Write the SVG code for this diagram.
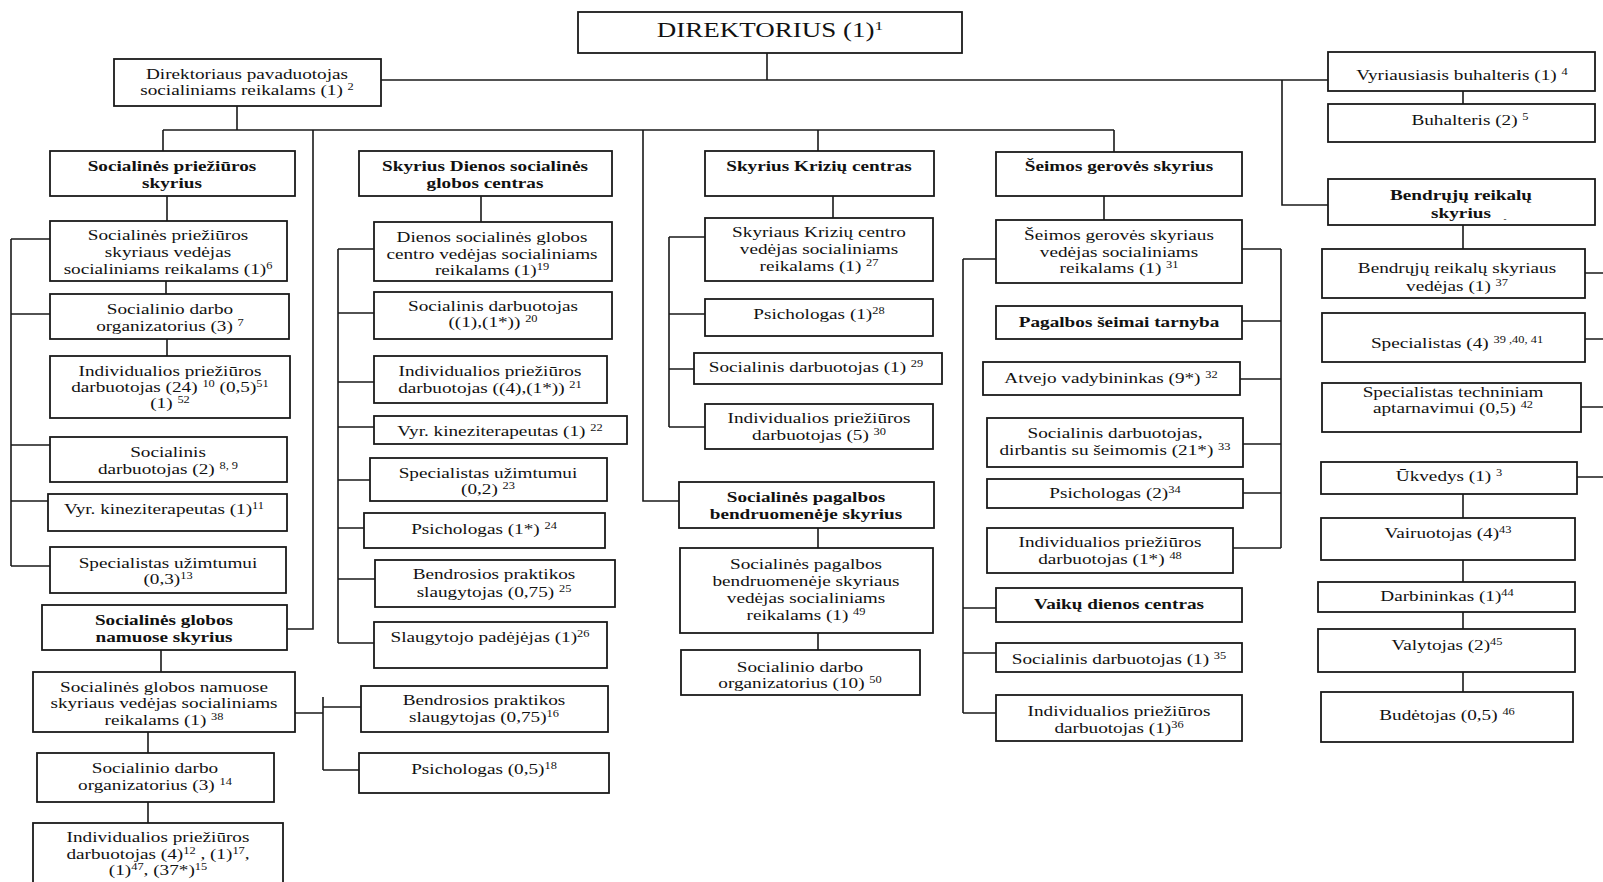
<svg xmlns="http://www.w3.org/2000/svg" width="1603" height="882" viewBox="0 0 1603 882">
<style>
rect{fill:#fff;stroke:#1a1a1a;stroke-width:1.8}
#conn path{fill:none;stroke:#1a1a1a;stroke-width:1.6}
text{font-family:"Liberation Serif","Times New Roman",serif;font-size:15.5px;text-anchor:middle;fill:#111}
.b{font-weight:bold}
.s{font-size:10px}
.big{font-size:20px}
.bigs{font-size:13px}
</style>
<rect x="0" y="0" width="1603" height="882" style="stroke:none"/>
<g id="conn">
<path d="M767 53V80M381 80H1328M237 106V130M163 130H1114M163 130V151M818 130V151M1114 130V152"/>
<path d="M313 130V629H287M643 130V501H679"/>
<path d="M1463 91V104M1282 80V205H1328M1463 225V249M1585 273H1603M1585 339H1603M1581 407H1603M1577 477H1603M1463 494V518M1463 560V582M1463 612V629M1463 672V692"/>
<path d="M167 196V221M166 281V294M167 339V356M11 239V566M11 239H50M11 314H50M11 445H50M11 501H48M11 566H50"/>
<path d="M161 650V672M148 732V753M148 802V823M295 713H323M323 697V770M323 707H361M323 770H359"/>
<path d="M481 196V222M338 249V643M338 249H374M338 313H374M338 382H374M338 427H374M338 480H370M338 528H364M338 579H375M338 643H374"/>
<path d="M833 196V218M669 237V427M669 237H705M669 314H705M669 369H694M669 427H705M818 528V548M818 633V650"/>
<path d="M1104 196V220M963 259V713M963 259H996M963 608H996M963 653H996M963 713H996M1281 249V548M1242 249H1281M1242 321H1281M1240 379H1281M1243 444H1281M1243 493H1281M1233 548H1281"/>
</g>
<g id="direktorius"><rect x="578" y="12" width="384" height="41"/><text class="big" transform="translate(770,0) scale(1.35,1)"><tspan x="0" y="37">DIREKTORIUS (1)<tspan class="bigs" baseline-shift="super">1</tspan></tspan></text></g>
<g id="pavaduotojas"><rect x="114" y="59" width="267" height="47"/><text transform="translate(247,0) scale(1.24,1)"><tspan x="0" y="79">Direktoriaus pavaduotojas</tspan><tspan x="0" y="95">socialiniams reikalams (1) <tspan class="s" baseline-shift="super">2</tspan></tspan></text></g>
<g id="sps"><rect x="50" y="151" width="245" height="45"/><text class="b" transform="translate(172,0) scale(1.24,1)"><tspan x="0" y="171">Socialinės priežiūros</tspan><tspan x="0" y="188">skyrius</tspan></text></g>
<g id="sps_v"><rect x="50" y="221" width="237" height="60"/><text transform="translate(168,0) scale(1.24,1)"><tspan x="0" y="240">Socialinės priežiūros</tspan><tspan x="0" y="257">skyriaus vedėjas</tspan><tspan x="0" y="274">socialiniams reikalams (1)<tspan class="s" baseline-shift="super">6</tspan></tspan></text></g>
<g id="sps_org"><rect x="50" y="294" width="239" height="45"/><text transform="translate(170,0) scale(1.24,1)"><tspan x="0" y="314">Socialinio darbo</tspan><tspan x="0" y="331">organizatorius (3) <tspan class="s" baseline-shift="super">7</tspan></tspan></text></g>
<g id="sps_ind"><rect x="50" y="356" width="240" height="62"/><text transform="translate(170,0) scale(1.24,1)"><tspan x="0" y="376">Individualios priežiūros</tspan><tspan x="0" y="392">darbuotojas (24) <tspan class="s" baseline-shift="super">10</tspan> (0,5)<tspan class="s" baseline-shift="super">51</tspan></tspan><tspan x="0" y="408">(1) <tspan class="s" baseline-shift="super">52</tspan></tspan></text></g>
<g id="sps_sd"><rect x="50" y="437" width="237" height="45"/><text transform="translate(168,0) scale(1.24,1)"><tspan x="0" y="457">Socialinis</tspan><tspan x="0" y="474">darbuotojas (2) <tspan class="s" baseline-shift="super">8, 9</tspan></tspan></text></g>
<g id="sps_kin"><rect x="48" y="494" width="239" height="37"/><text transform="translate(164,0) scale(1.24,1)"><tspan x="0" y="514">Vyr. kineziterapeutas (1)<tspan class="s" baseline-shift="super">11</tspan></tspan></text></g>
<g id="sps_uz"><rect x="50" y="547" width="236" height="46"/><text transform="translate(168,0) scale(1.24,1)"><tspan x="0" y="568">Specialistas užimtumui</tspan><tspan x="0" y="584">(0,3)<tspan class="s" baseline-shift="super">13</tspan></tspan></text></g>
<g id="sgn"><rect x="42" y="605" width="245" height="45"/><text class="b" transform="translate(164,0) scale(1.24,1)"><tspan x="0" y="625">Socialinės globos</tspan><tspan x="0" y="642">namuose skyrius</tspan></text></g>
<g id="sgn_v"><rect x="33" y="672" width="262" height="60"/><text transform="translate(164,0) scale(1.24,1)"><tspan x="0" y="692">Socialinės globos namuose</tspan><tspan x="0" y="708">skyriaus vedėjas socialiniams</tspan><tspan x="0" y="725">reikalams (1) <tspan class="s" baseline-shift="super">38</tspan></tspan></text></g>
<g id="sgn_org"><rect x="37" y="753" width="237" height="49"/><text transform="translate(155,0) scale(1.24,1)"><tspan x="0" y="773">Socialinio darbo</tspan><tspan x="0" y="790">organizatorius (3) <tspan class="s" baseline-shift="super">14</tspan></tspan></text></g>
<g id="sgn_ind"><rect x="33" y="823" width="250" height="65"/><text transform="translate(158,0) scale(1.24,1)"><tspan x="0" y="842">Individualios priežiūros</tspan><tspan x="0" y="859">darbuotojas  (4)<tspan class="s" baseline-shift="super">12</tspan> , (1)<tspan class="s" baseline-shift="super">17</tspan>,</tspan><tspan x="0" y="875">(1)<tspan class="s" baseline-shift="super">47</tspan>, (37*)<tspan class="s" baseline-shift="super">15</tspan></tspan></text></g>
<g id="sgn_slaug"><rect x="361" y="686" width="247" height="46"/><text transform="translate(484,0) scale(1.24,1)"><tspan x="0" y="705">Bendrosios praktikos</tspan><tspan x="0" y="722">slaugytojas (0,75)<tspan class="s" baseline-shift="super">16</tspan></tspan></text></g>
<g id="sgn_psi"><rect x="359" y="753" width="250" height="40"/><text transform="translate(484,0) scale(1.24,1)"><tspan x="0" y="774">Psichologas (0,5)<tspan class="s" baseline-shift="super">18</tspan></tspan></text></g>
<g id="dsc"><rect x="359" y="151" width="253" height="45"/><text class="b" transform="translate(485,0) scale(1.24,1)"><tspan x="0" y="171">Skyrius Dienos socialinės</tspan><tspan x="0" y="188">globos centras</tspan></text></g>
<g id="dsc_v"><rect x="374" y="222" width="238" height="59"/><text transform="translate(492,0) scale(1.24,1)"><tspan x="0" y="242">Dienos socialinės globos</tspan><tspan x="0" y="259">centro vedėjas socialiniams</tspan><tspan x="0" y="275">reikalams (1)<tspan class="s" baseline-shift="super">19</tspan></tspan></text></g>
<g id="dsc_sd"><rect x="374" y="292" width="238" height="47"/><text transform="translate(493,0) scale(1.24,1)"><tspan x="0" y="311">Socialinis darbuotojas</tspan><tspan x="0" y="327">((1),(1*)) <tspan class="s" baseline-shift="super">20</tspan></tspan></text></g>
<g id="dsc_ind"><rect x="374" y="356" width="233" height="47"/><text transform="translate(490,0) scale(1.24,1)"><tspan x="0" y="376">Individualios priežiūros</tspan><tspan x="0" y="393">darbuotojas ((4),(1*)) <tspan class="s" baseline-shift="super">21</tspan></tspan></text></g>
<g id="dsc_kin"><rect x="374" y="416" width="253" height="28"/><text transform="translate(500,0) scale(1.24,1)"><tspan x="0" y="436">Vyr. kineziterapeutas (1) <tspan class="s" baseline-shift="super">22</tspan></tspan></text></g>
<g id="dsc_uz"><rect x="370" y="458" width="237" height="43"/><text transform="translate(488,0) scale(1.24,1)"><tspan x="0" y="478">Specialistas užimtumui</tspan><tspan x="0" y="494">(0,2) <tspan class="s" baseline-shift="super">23</tspan></tspan></text></g>
<g id="dsc_psi"><rect x="364" y="513" width="241" height="35"/><text transform="translate(484,0) scale(1.24,1)"><tspan x="0" y="534">Psichologas (1*) <tspan class="s" baseline-shift="super">24</tspan></tspan></text></g>
<g id="dsc_slaug"><rect x="375" y="560" width="240" height="47"/><text transform="translate(494,0) scale(1.24,1)"><tspan x="0" y="579">Bendrosios praktikos</tspan><tspan x="0" y="597">slaugytojas (0,75) <tspan class="s" baseline-shift="super">25</tspan></tspan></text></g>
<g id="dsc_pad"><rect x="374" y="622" width="233" height="46"/><text transform="translate(490,0) scale(1.24,1)"><tspan x="0" y="642">Slaugytojo padėjėjas (1)<tspan class="s" baseline-shift="super">26</tspan></tspan></text></g>
<g id="kc"><rect x="705" y="151" width="229" height="45"/><text class="b" transform="translate(819,0) scale(1.24,1)"><tspan x="0" y="171">Skyrius Krizių centras</tspan></text></g>
<g id="kc_v"><rect x="705" y="218" width="228" height="63"/><text transform="translate(819,0) scale(1.24,1)"><tspan x="0" y="237">Skyriaus Krizių centro</tspan><tspan x="0" y="254">vedėjas socialiniams</tspan><tspan x="0" y="271">reikalams (1) <tspan class="s" baseline-shift="super">27</tspan></tspan></text></g>
<g id="kc_psi"><rect x="705" y="299" width="228" height="37"/><text transform="translate(819,0) scale(1.24,1)"><tspan x="0" y="319">Psichologas (1)<tspan class="s" baseline-shift="super">28</tspan></tspan></text></g>
<g id="kc_sd"><rect x="694" y="353" width="248" height="31"/><text transform="translate(816,0) scale(1.24,1)"><tspan x="0" y="372">Socialinis darbuotojas (1) <tspan class="s" baseline-shift="super">29</tspan></tspan></text></g>
<g id="kc_ind"><rect x="705" y="404" width="228" height="45"/><text transform="translate(819,0) scale(1.24,1)"><tspan x="0" y="423">Individualios priežiūros</tspan><tspan x="0" y="440">darbuotojas (5) <tspan class="s" baseline-shift="super">30</tspan></tspan></text></g>
<g id="spb"><rect x="679" y="482" width="255" height="46"/><text class="b" transform="translate(806,0) scale(1.24,1)"><tspan x="0" y="502">Socialinės pagalbos</tspan><tspan x="0" y="519">bendruomenėje skyrius</tspan></text></g>
<g id="spb_v"><rect x="680" y="548" width="253" height="85"/><text transform="translate(806,0) scale(1.24,1)"><tspan x="0" y="569">Socialinės pagalbos</tspan><tspan x="0" y="586">bendruomenėje skyriaus</tspan><tspan x="0" y="603">vedėjas socialiniams</tspan><tspan x="0" y="620">reikalams (1) <tspan class="s" baseline-shift="super">49</tspan></tspan></text></g>
<g id="spb_org"><rect x="681" y="650" width="239" height="45"/><text transform="translate(800,0) scale(1.24,1)"><tspan x="0" y="672">Socialinio darbo</tspan><tspan x="0" y="688">organizatorius (10) <tspan class="s" baseline-shift="super">50</tspan></tspan></text></g>
<g id="sg"><rect x="996" y="152" width="246" height="44"/><text class="b" transform="translate(1119,0) scale(1.24,1)"><tspan x="0" y="171">Šeimos gerovės skyrius</tspan></text></g>
<g id="sg_v"><rect x="996" y="220" width="246" height="63"/><text transform="translate(1119,0) scale(1.24,1)"><tspan x="0" y="240">Šeimos gerovės skyriaus</tspan><tspan x="0" y="257">vedėjas socialiniams</tspan><tspan x="0" y="273">reikalams (1) <tspan class="s" baseline-shift="super">31</tspan></tspan></text></g>
<g id="sg_pst"><rect x="996" y="306" width="246" height="33"/><text class="b" transform="translate(1119,0) scale(1.24,1)"><tspan x="0" y="327">Pagalbos šeimai tarnyba</tspan></text></g>
<g id="sg_av"><rect x="983" y="362" width="257" height="33"/><text transform="translate(1111,0) scale(1.24,1)"><tspan x="0" y="383">Atvejo vadybininkas (9*) <tspan class="s" baseline-shift="super">32</tspan></tspan></text></g>
<g id="sg_sd"><rect x="987" y="418" width="256" height="49"/><text transform="translate(1115,0) scale(1.24,1)"><tspan x="0" y="438">Socialinis darbuotojas,</tspan><tspan x="0" y="455">dirbantis su šeimomis (21*) <tspan class="s" baseline-shift="super">33</tspan></tspan></text></g>
<g id="sg_psi"><rect x="987" y="479" width="256" height="29"/><text transform="translate(1115,0) scale(1.24,1)"><tspan x="0" y="498">Psichologas (2)<tspan class="s" baseline-shift="super">34</tspan></tspan></text></g>
<g id="sg_ind"><rect x="987" y="528" width="246" height="45"/><text transform="translate(1110,0) scale(1.24,1)"><tspan x="0" y="547">Individualios priežiūros</tspan><tspan x="0" y="564">darbuotojas (1*) <tspan class="s" baseline-shift="super">48</tspan></tspan></text></g>
<g id="sg_vdc"><rect x="996" y="588" width="246" height="34"/><text class="b" transform="translate(1119,0) scale(1.24,1)"><tspan x="0" y="609">Vaikų dienos centras</tspan></text></g>
<g id="sg_sd2"><rect x="996" y="643" width="246" height="29"/><text transform="translate(1119,0) scale(1.24,1)"><tspan x="0" y="664">Socialinis darbuotojas (1) <tspan class="s" baseline-shift="super">35</tspan></tspan></text></g>
<g id="sg_ind2"><rect x="996" y="695" width="246" height="46"/><text transform="translate(1119,0) scale(1.24,1)"><tspan x="0" y="716">Individualios priežiūros</tspan><tspan x="0" y="733">darbuotojas (1)<tspan class="s" baseline-shift="super">36</tspan></tspan></text></g>
<g id="vb"><rect x="1328" y="52" width="267" height="39"/><text transform="translate(1462,0) scale(1.24,1)"><tspan x="0" y="80">Vyriausiasis buhalteris (1) <tspan class="s" baseline-shift="super">4</tspan></tspan></text></g>
<g id="buh"><rect x="1328" y="104" width="267" height="38"/><text transform="translate(1470,0) scale(1.24,1)"><tspan x="0" y="125">Buhalteris (2) <tspan class="s" baseline-shift="super">5</tspan></tspan></text></g>
<g id="brs"><rect x="1328" y="179" width="267" height="46"/><text class="b" transform="translate(1461,0) scale(1.24,1)"><tspan x="0" y="200">Bendrųjų reikalų</tspan><tspan x="0" y="218">skyrius</tspan></text><text style="font-size:9px" x="1505" y="222">-</text></g>
<g id="brs_v"><rect x="1322" y="249" width="263" height="49"/><text transform="translate(1457,0) scale(1.24,1)"><tspan x="0" y="273">Bendrųjų reikalų skyriaus</tspan><tspan x="0" y="291">vedėjas (1) <tspan class="s" baseline-shift="super">37</tspan></tspan></text></g>
<g id="brs_sp"><rect x="1322" y="313" width="263" height="49"/><text transform="translate(1457,0) scale(1.24,1)"><tspan x="0" y="348">Specialistas (4) <tspan class="s" baseline-shift="super">39 ,40, 41</tspan></tspan></text></g>
<g id="brs_tech"><rect x="1322" y="383" width="259" height="49"/><text transform="translate(1453,0) scale(1.24,1)"><tspan x="0" y="397">Specialistas techniniam</tspan><tspan x="0" y="413">aptarnavimui (0,5) <tspan class="s" baseline-shift="super">42</tspan></tspan></text></g>
<g id="ukv"><rect x="1321" y="462" width="256" height="32"/><text transform="translate(1449,0) scale(1.24,1)"><tspan x="0" y="481">Ūkvedys (1) <tspan class="s" baseline-shift="super">3</tspan></tspan></text></g>
<g id="vair"><rect x="1321" y="518" width="254" height="42"/><text transform="translate(1448,0) scale(1.24,1)"><tspan x="0" y="538">Vairuotojas (4)<tspan class="s" baseline-shift="super">43</tspan></tspan></text></g>
<g id="darb"><rect x="1318" y="582" width="257" height="30"/><text transform="translate(1447,0) scale(1.24,1)"><tspan x="0" y="601">Darbininkas (1)<tspan class="s" baseline-shift="super">44</tspan></tspan></text></g>
<g id="valyt"><rect x="1318" y="629" width="257" height="43"/><text transform="translate(1447,0) scale(1.24,1)"><tspan x="0" y="650">Valytojas (2)<tspan class="s" baseline-shift="super">45</tspan></tspan></text></g>
<g id="bud"><rect x="1321" y="692" width="252" height="50"/><text transform="translate(1447,0) scale(1.24,1)"><tspan x="0" y="720">Budėtojas (0,5) <tspan class="s" baseline-shift="super">46</tspan></tspan></text></g>
</svg>
